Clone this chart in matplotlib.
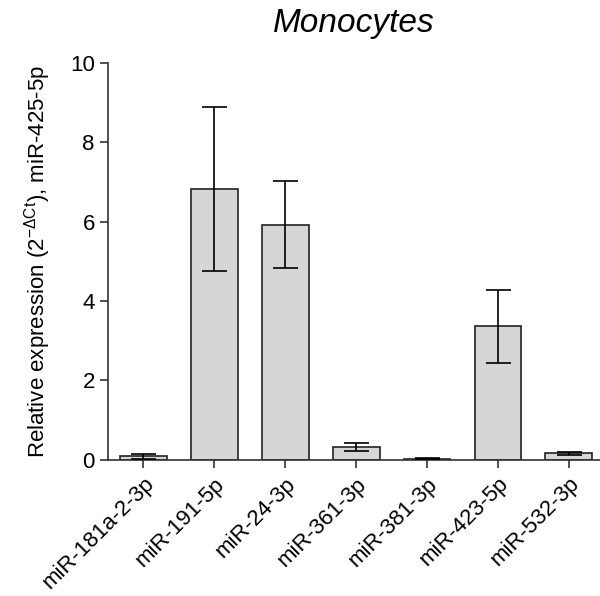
import numpy as np
import matplotlib
matplotlib.use('Agg')
import matplotlib.pyplot as plt

plt.rcParams['font.family'] = ['Liberation Sans', 'DejaVu Sans']
plt.rcParams['mathtext.fontset'] = 'custom'
plt.rcParams['mathtext.rm'] = 'Liberation Sans'
plt.rcParams['mathtext.it'] = 'Liberation Sans:italic'

mirnas = ['miR-181a-2-3p', 'miR-191-5p', 'miR-24-3p', 'miR-361-3p',
          'miR-381-3p', 'miR-423-5p', 'miR-532-3p']
means = [0.08, 6.82, 5.92, 0.32, 0.02, 3.36, 0.16]
errs = [0.06, 2.07, 1.10, 0.10, 0.01, 0.92, 0.04]

fig = plt.figure(figsize=(6, 5.96), dpi=100)
ax = fig.add_axes([0.18, 0.229, 0.82, 0.6654])

x = np.arange(len(mirnas))
ax.bar(x, means, width=0.66, color='#d6d6d6', edgecolor='#222222', linewidth=1.2, zorder=2)
ax.errorbar(x, means, yerr=errs, fmt='none', ecolor='black', elinewidth=1.2,
            capsize=9, capthick=1.2, zorder=3)

ax.set_xlim(-0.5, 6.44)
ax.set_ylim(0, 10)
ax.set_yticks([0, 2, 4, 6, 8, 10])
ax.set_xticks(x)
ax.set_xticklabels(mirnas, rotation=45, ha='right', rotation_mode='anchor', fontsize=16)
ax.tick_params(axis='both', direction='out', length=6, width=1.2, color='#333333', labelsize=16)
ax.tick_params(axis='x', pad=4)

for s in ['top', 'right']:
    ax.spines[s].set_visible(False)
for s in ['left', 'bottom']:
    ax.spines[s].set_linewidth(1.2)
    ax.spines[s].set_color('#333333')

ax.set_ylabel(r'Relative expression (2$^{\mathregular{-\Delta Ct}}$), miR-425-5p', fontsize=16, labelpad=12)
ax.set_title('Monocytes', fontsize=24, style='italic', pad=22)

plt.savefig('out.png', dpi=100)
